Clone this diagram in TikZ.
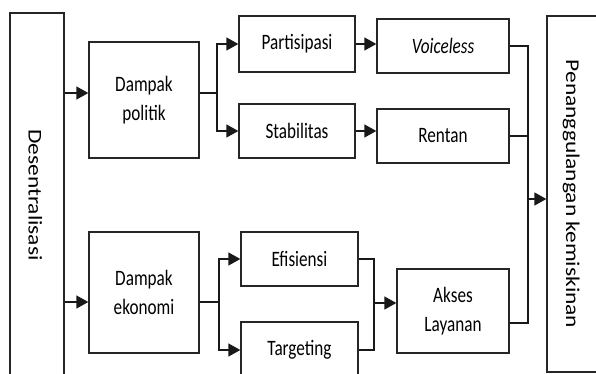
\documentclass[tikz,border=0pt]{standalone}
\usepackage{fontspec}
\setmainfont{Carlito}
\newfontfamily\hfont[FakeStretch=0.78]{Carlito}
\newfontfamily\vfont[FakeStretch=1.2]{Carlito}
\usetikzlibrary{arrows.meta}
\begin{document}
\begin{tikzpicture}[x=1pt,y=-1pt,
  box/.style={draw=black!85, line width=1.3pt, rectangle, inner sep=0pt, align=center,
    font=\hfont\fontsize{22}{29}\selectfont},
  conn/.style={line width=1.3pt, draw=black!90},
  arr/.style={conn, -{Triangle[length=12pt,width=13pt]}},
  vtext/.style={rotate=-90, inner sep=0pt, anchor=base, font=\vfont\fontsize{19.5}{22}\selectfont}]
\clip (0,0) rectangle (596,374);
% boxes
\node[box, minimum width=54pt, minimum height=380pt] (desent) at (37,203) {};
\node[vtext] (desenttext) at (28.5,195) {Desentralisasi};
\node[box, minimum width=70pt, minimum height=356pt] (pen) at (582,194) {};
\node[vtext] (pentext) at (566,194) {Penanggulangan kemiskinan};
\node[box, minimum width=110pt, minimum height=116pt] (dp) at (144,100) {Dampak\\politik};
\node[box, minimum width=110pt, minimum height=121pt] (de) at (144,292.5) {Dampak\\ekonomi};
\node[box, minimum width=116pt, minimum height=56pt] (part) at (297,44) {Partisipasi};
\node[box, minimum width=116pt, minimum height=54pt] (stab) at (297,131) {Stabilitas};
\node[box, minimum width=132pt, minimum height=54pt] (voice) at (443,46) {\itshape Voiceless};
\node[box, minimum width=132pt, minimum height=54pt] (rentan) at (443,136) {Rentan};
\node[box, minimum width=117pt, minimum height=54pt] (efis) at (299.5,259) {Efisiensi};
\node[box, minimum width=117pt, minimum height=56pt] (targ) at (299.5,350) {Targeting};
\node[box, minimum width=112pt, minimum height=84pt] (akses) at (453,311) {Akses\\Layanan};
% junction coordinates
\coordinate (y1) at (0,93);
\coordinate (y2) at (0,302);
\coordinate (j1) at (217,93);
\coordinate (j5) at (219,302);
\coordinate (j6) at (374,303);
\coordinate (j3) at (528,199);
\coordinate (j4) at (528,323);
% connectors
\draw[arr] (desent.east |- y1) -- (dp.west |- y1);
\draw[arr] (desent.east |- y2) -- (de.west |- y2);
\draw[conn] (dp.east |- j1) -- (j1);
\draw[arr] (j1) |- (part.west);
\draw[arr] (j1) |- (stab.west);
\draw[arr] (part.east) -- (voice.west |- part.east);
\draw[arr] (stab.east) -- (rentan.west |- stab.east);
\draw[conn] (voice.east) -| (j4) -- (akses.east |- j4);
\draw[conn] (rentan.east) -- (rentan.east -| j4);
\draw[arr] (j3) -- (pen.west |- j3);
\draw[conn] (de.east |- j5) -- (j5);
\draw[arr] (j5) |- (efis.west);
\draw[arr] (j5) |- (targ.west);
\draw[conn] (efis.east) -| (j6);
\draw[conn] (targ.east) -| (j6);
\draw[arr] (j6) -- (akses.west |- j6);
\end{tikzpicture}
\end{document}
